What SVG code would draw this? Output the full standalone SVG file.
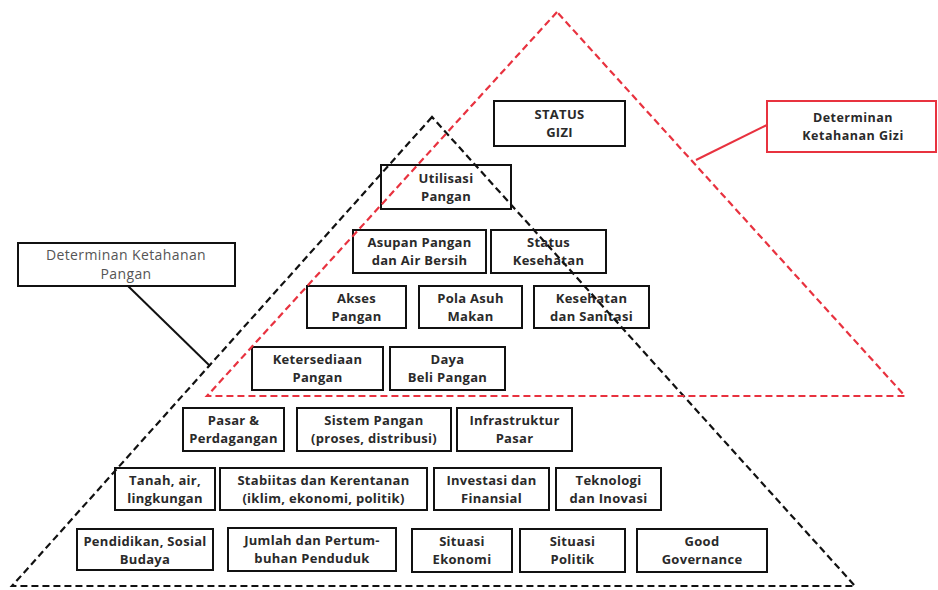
<svg xmlns="http://www.w3.org/2000/svg" width="938" height="590" viewBox="0 0 938 590">
<style>
.n rect{fill:#fff;stroke:#111;stroke-width:2}
.n text{font-family:"Open Sans","Liberation Sans",sans-serif;font-weight:700;font-size:13px;letter-spacing:0.3px;fill:#2a2a2a;text-anchor:middle}
.tri-b{fill:none;stroke:#111;stroke-width:2.2;stroke-dasharray:7 4}
.tri-r{fill:none;stroke:#e8323f;stroke-width:2.2;stroke-dasharray:7 4}
.lbl text{font-family:"Open Sans","Liberation Sans",sans-serif;text-anchor:middle}
</style>
<rect width="938" height="590" fill="#fff"/>
<g id="connectors">
<line x1="128" y1="286" x2="210" y2="366" stroke="#111" stroke-width="2"/>
<line x1="696" y1="160" x2="767" y2="125" stroke="#e8323f" stroke-width="2"/>
</g>
<g id="label-pangan" class="lbl">
<rect x="18" y="243" width="217" height="43" fill="#fff" stroke="#111" stroke-width="2"/>
<text x="126" y="260" font-size="14" letter-spacing="0.4" fill="#555">Determinan Ketahanan</text>
<text x="126" y="279" font-size="14" letter-spacing="0.4" fill="#555">Pangan</text>
</g>
<g id="label-gizi" class="lbl">
<rect x="767" y="101" width="169" height="51" fill="#fff" stroke="#e8323f" stroke-width="2"/>
<text x="853" y="122" font-size="12.5" font-weight="700" letter-spacing="0.5" fill="#2a2a2a">Determinan</text>
<text x="853" y="140" font-size="12.5" font-weight="700" letter-spacing="0.5" fill="#2a2a2a">Ketahanan Gizi</text>
</g>
<g id="status-gizi" class="n"><rect x="494" y="101" width="131" height="45"/><text x="559.5" y="119">STATUS</text><text x="559.5" y="137">GIZI</text></g>
<g id="utilisasi" class="n"><rect x="381" y="165" width="130" height="44"/><text x="446" y="183">Utilisasi</text><text x="446" y="201">Pangan</text></g>
<g id="asupan" class="n"><rect x="353" y="230" width="133" height="43"/><text x="419.5" y="247">Asupan Pangan</text><text x="419.5" y="265">dan Air Bersih</text></g>
<g id="status-kesehatan" class="n"><rect x="491" y="230" width="115" height="43"/><text x="548.5" y="247">Status</text><text x="548.5" y="265">Kesehatan</text></g>
<g id="akses" class="n"><rect x="307" y="286" width="99" height="42"/><text x="356.5" y="303">Akses</text><text x="356.5" y="321">Pangan</text></g>
<g id="pola-asuh" class="n"><rect x="419" y="286" width="103" height="42"/><text x="470.5" y="303">Pola Asuh</text><text x="470.5" y="321">Makan</text></g>
<g id="kesehatan-sanitasi" class="n"><rect x="534" y="286" width="115" height="42"/><text x="591.5" y="303">Kesehatan</text><text x="591.5" y="321">dan Sanitasi</text></g>
<g id="ketersediaan" class="n"><rect x="252" y="347" width="131" height="43"/><text x="317.5" y="364">Ketersediaan</text><text x="317.5" y="382">Pangan</text></g>
<g id="daya-beli" class="n"><rect x="390" y="347" width="115" height="43"/><text x="447.5" y="364">Daya</text><text x="447.5" y="382">Beli Pangan</text></g>
<g id="pasar" class="n"><rect x="183" y="408" width="101" height="43"/><text x="233.5" y="425">Pasar &amp;</text><text x="233.5" y="443">Perdagangan</text></g>
<g id="sistem-pangan" class="n"><rect x="297" y="408" width="154" height="43"/><text x="374" y="425">Sistem Pangan</text><text x="374" y="443">(proses, distribusi)</text></g>
<g id="infrastruktur" class="n"><rect x="457" y="408" width="115" height="43"/><text x="514.5" y="425">Infrastruktur</text><text x="514.5" y="443">Pasar</text></g>
<g id="tanah" class="n"><rect x="115" y="468" width="100" height="42"/><text x="165" y="485">Tanah, air,</text><text x="165" y="503">lingkungan</text></g>
<g id="stabiitas" class="n"><rect x="220" y="468" width="207" height="42"/><text x="323.5" y="485">Stabiitas dan Kerentanan</text><text x="323.5" y="503">(iklim, ekonomi, politik)</text></g>
<g id="investasi" class="n"><rect x="434" y="468" width="115" height="42"/><text x="491.5" y="485">Investasi dan</text><text x="491.5" y="503">Finansial</text></g>
<g id="teknologi" class="n"><rect x="556" y="468" width="105" height="42"/><text x="608.5" y="485">Teknologi</text><text x="608.5" y="503">dan Inovasi</text></g>
<g id="pendidikan" class="n"><rect x="77" y="529" width="136" height="41"/><text x="145" y="546">Pendidikan, Sosial</text><text x="145" y="564">Budaya</text></g>
<g id="jumlah" class="n"><rect x="228" y="528" width="168" height="43"/><text x="312" y="545">Jumlah dan Pertum-</text><text x="312" y="563">buhan Penduduk</text></g>
<g id="situasi-ekonomi" class="n"><rect x="412" y="529" width="100" height="43"/><text x="462" y="546">Situasi</text><text x="462" y="564">Ekonomi</text></g>
<g id="situasi-politik" class="n"><rect x="520" y="529" width="105" height="43"/><text x="572.5" y="546">Situasi</text><text x="572.5" y="564">Politik</text></g>
<g id="good-governance" class="n"><rect x="637" y="529" width="130" height="43"/><text x="702" y="546">Good</text><text x="702" y="564">Governance</text></g>
<g id="triangles">
<polygon class="tri-b" points="432,117 12,586 855,586"/>
<polygon class="tri-r" points="557,12 207,396 905,396"/>
</g>
</svg>
